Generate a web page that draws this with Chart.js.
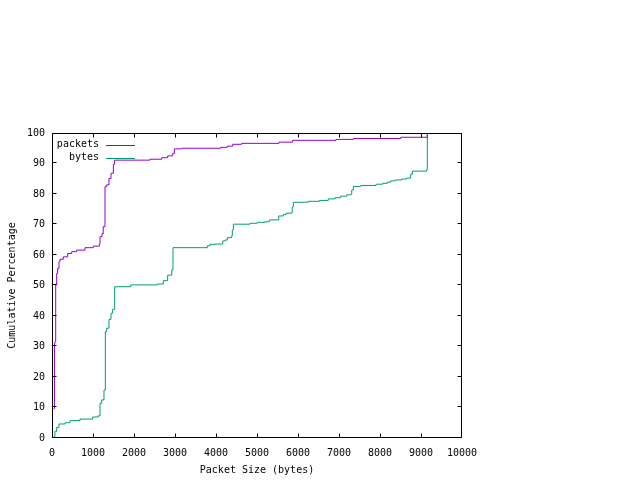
<!DOCTYPE html>
<html>
<head>
<meta charset="utf-8">
<script src="https://cdn.jsdelivr.net/npm/chart.js@4/dist/chart.umd.min.js"></script>
<style>
  html, body { margin: 0; padding: 0; background: #fff; }
  canvas { display: block; }
</style>
</head>
<body>
<canvas id="chart" width="640" height="480"></canvas>
<script>
// packet size (bytes) where the cumulative curve steps up, and the percentage it reaches
const packetSizes = [40, 60, 74, 90, 114, 138, 171, 195, 276, 382,
  480, 602, 805, 1008, 1155, 1171, 1220, 1250, 1293, 1333,
  1390, 1439, 1496, 1528, 2391, 2676, 2821, 2944, 2984, 3163,
  4114, 4276, 4407, 4626, 5537, 5870, 6927, 7350, 8505, 9154];
const packetPct = [9.6, 31, 31.6, 50.2, 54, 55.6, 57.8, 58.6, 59.4, 60.5,
  61.1, 61.6, 62.4, 62.9, 63.5, 66, 67, 69.3, 82.4, 83,
  85.1, 86.8, 89.7, 91.1, 91.4, 91.9, 92.5, 93.3, 94.8, 95,
  95.3, 95.7, 96.3, 96.6, 97, 97.6, 97.9, 98.2, 98.6, 100];

const byteSizes = [45, 70, 113, 171, 317, 439, 683, 992, 1130,
  1171, 1211, 1268, 1301, 1333, 1390, 1439, 1479, 1528,
  1919, 2569, 2715, 2821, 2920, 2951,
  3788, 3854, 3976, 4164, 4219, 4276, 4383, 4398, 4423,
  4830, 5007, 5195, 5301, 5530, 5642, 5707, 5846, 5861, 5886,
  6252, 6520, 6740, 6902, 7041, 7187, 7285, 7310, 7350,
  7529, 7903, 8066, 8178, 8262, 8366, 8529, 8652, 8749, 8790,
  9139, 9154];
const bytePct = [0.4, 2.1, 3.5, 4.6, 5, 5.7, 6.2, 6.9, 7.3,
  11.4, 12.5, 15.7, 34.9, 36, 38.9, 40.9, 42.2, 49.6,
  50.2, 50.5, 51.6, 53.4, 55.1, 62.4,
  63, 63.5, 63.6, 64.6, 64.9, 65.7, 66.3, 68.2, 70.1,
  70.4, 70.7, 70.9, 71.5, 72.8, 73.3, 73.7, 74, 75.8, 77.3,
  77.6, 77.9, 78.4, 78.8, 79.3, 79.7, 79.9, 81.3, 82.5,
  82.8, 83.2, 83.5, 83.9, 84.3, 84.6, 84.9, 85.2, 86.5, 87.5,
  88, 100];

const xTicks = [0, 1000, 2000, 3000, 4000, 5000, 6000, 7000, 8000, 9000, 10000];
const yTicks = [0, 10, 20, 30, 40, 50, 60, 70, 80, 90, 100];

const FONT = '"DejaVu Sans Mono", "Liberation Mono", monospace';

function toPoints(xs, ys) {
  return xs.map((x, i) => ({x: x, y: ys[i]}));
}

// gnuplot style border box, inward mirrored ticks and key
const gnuplotFrame = {
  id: 'gnuplotFrame',
  afterDatasetsDraw(chart) {
    const ctx = chart.ctx;
    const a = chart.chartArea;
    const sx = chart.scales.x, sy = chart.scales.y;
    const L = a.left + 0.5, R = a.right - 0.5, T = a.top + 0.5, B = a.bottom - 0.5;
    ctx.save();
    ctx.strokeStyle = '#000';
    ctx.lineWidth = 1;
    ctx.beginPath();
    xTicks.forEach(v => {
      const px = Math.min(R, Math.floor(sx.getPixelForValue(v)) + 0.5);
      ctx.moveTo(px, B); ctx.lineTo(px, B - 4);
      ctx.moveTo(px, T); ctx.lineTo(px, T + 4);
    });
    yTicks.forEach(v => {
      const py = Math.max(T, Math.floor(sy.getPixelForValue(v)) - 0.5);
      ctx.moveTo(L, py); ctx.lineTo(L + 4, py);
      ctx.moveTo(R, py); ctx.lineTo(R - 4, py);
    });
    ctx.rect(L, T, R - L, B - T);
    ctx.stroke();

    // key
    ctx.font = '10px ' + FONT;
    ctx.fillStyle = '#000';
    ctx.textAlign = 'right';
    ctx.textBaseline = 'middle';
    chart.data.datasets.forEach((ds, i) => {
      const y = a.top + 11.5 + i * 13;
      ctx.fillText(ds.label, a.left + 47, y);
      ctx.beginPath();
      ctx.strokeStyle = ds.borderColor;
      ctx.moveTo(a.left + 54, Math.round(y) + 0.5);
      ctx.lineTo(a.left + 83, Math.round(y) + 0.5);
      ctx.stroke();
    });
    ctx.restore();
  }
};

new Chart(document.getElementById('chart'), {
  type: 'line',
  data: {
    datasets: [
      {
        label: 'packets',
        data: toPoints(packetSizes, packetPct),
        borderColor: '#9400d3',
        borderWidth: 1,
        stepped: true,
        pointRadius: 0,
        fill: false,
        clip: 2
      },
      {
        label: 'bytes',
        data: toPoints(byteSizes, bytePct),
        borderColor: '#009e73',
        borderWidth: 1,
        stepped: true,
        pointRadius: 0,
        fill: false,
        clip: 2
      }
    ]
  },
  options: {
    responsive: false,
    animation: false,
    devicePixelRatio: 1,
    layout: { padding: { left: 0, top: 133, right: 178, bottom: 0 } },
    plugins: {
      legend: { display: false },
      tooltip: { enabled: false }
    },
    scales: {
      x: {
        type: 'linear',
        min: 0,
        max: 10000,
        afterFit(scale) { scale.height = 42; },
        afterBuildTicks(scale) { scale.ticks = xTicks.map(v => ({value: v})); },
        grid: { display: false, drawTicks: false },
        border: { display: false },
        ticks: {
          autoSkip: false,
          maxRotation: 0,
          padding: 9,
          color: '#000',
          font: { family: FONT, size: 10 },
          callback: v => String(v)
        },
        title: {
          display: true,
          text: 'Packet Size (bytes)',
          color: '#000',
          font: { family: FONT, size: 10 },
          padding: { top: 0, bottom: 4 }
        }
      },
      y: {
        min: 0,
        max: 100,
        afterFit(scale) { scale.width = 52; },
        afterBuildTicks(scale) { scale.ticks = yTicks.map(v => ({value: v})); },
        grid: { display: false, drawTicks: false },
        border: { display: false },
        ticks: {
          autoSkip: false,
          padding: 7,
          color: '#000',
          font: { family: FONT, size: 10 },
          callback: v => String(v)
        },
        title: {
          display: true,
          text: 'Cumulative Percentage',
          color: '#000',
          font: { family: FONT, size: 10 },
          padding: { top: 6, bottom: 0 }
        }
      }
    }
  },
  plugins: [gnuplotFrame]
});
</script>
</body>
</html>
